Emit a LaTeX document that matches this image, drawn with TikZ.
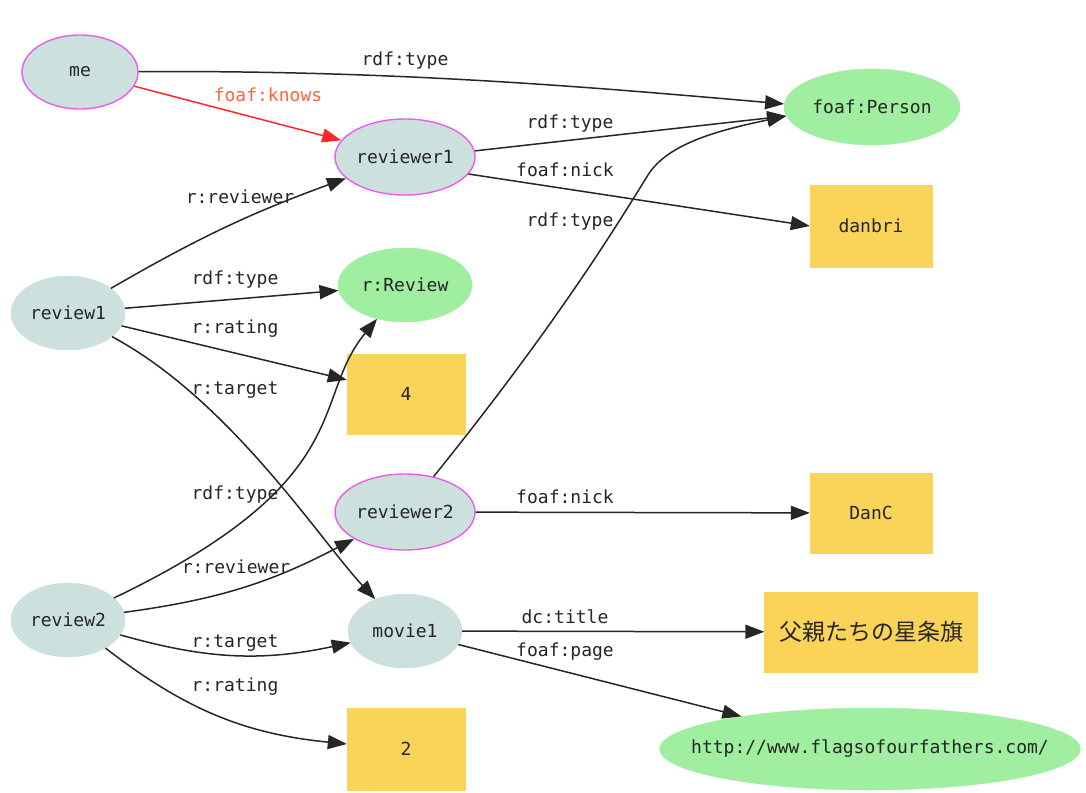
\documentclass[tikz,border=0pt]{standalone}
\usepackage{fontspec}
\setmonofont{DejaVu Sans Mono}
\newfontfamily\jpfont{Noto Sans CJK JP}
\usetikzlibrary{shapes.geometric,arrows.meta}
\definecolor{resfill}{RGB}{204,224,222}
\definecolor{personline}{RGB}{238,90,238}
\definecolor{classfill}{RGB}{160,238,160}
\definecolor{litfill}{RGB}{250,212,88}
\definecolor{knowsred}{RGB}{255,40,40}
\definecolor{knowslabel}{RGB}{255,100,60}
\begin{document}
\begin{tikzpicture}[x=1pt,y=1pt,
    every node/.style={font=\ttfamily\fontsize{18}{20}\selectfont, text=black!85, inner sep=0pt},
    res/.style={ellipse, fill=resfill, draw=resfill, minimum width=114pt, minimum height=74pt},
    agent/.style={ellipse, fill=resfill, draw=personline, line width=1.4pt, minimum width=140pt, minimum height=76pt},
    class/.style={ellipse, fill=classfill, draw=classfill, minimum width=134pt, minimum height=74pt},
    lit/.style={rectangle, fill=litfill, draw=litfill, minimum width=118pt, minimum height=80pt},
    edge/.style={draw=black!85, line width=1.5pt, -{Triangle[length=19pt,width=14pt]}}]
    \fill [white] (0,0) rectangle (1086,-792);
    \useasboundingbox (0,0) rectangle (1086,-792);
    % resources
    \node [agent, minimum width=116pt, minimum height=74pt] (me) at (80,-72) {me};
    \node [agent] (reviewer1) at (405,-157) {reviewer1};
    \node [agent] (reviewer2) at (405,-512) {reviewer2};
    \node [res] (review1) at (68,-313) {review1};
    \node [res] (review2) at (68,-620) {review2};
    \node [res] (movie1) at (405,-631) {movie1};
    % classes and pages
    \node [class, minimum width=176pt, minimum height=76pt] (person) at (872,-107) {foaf:Person};
    \node [class] (review) at (405,-285) {r:Review};
    \node [class, inner xsep=-30pt, minimum width=420pt, minimum height=82pt] (page) at (870,-749) {http://www.flagsofourfathers.com/};
    % literals
    \node [lit, minimum width=122pt, minimum height=82pt] (danbri) at (871,-226) {danbri};
    \node [lit, minimum width=122pt] (danc) at (871,-513) {DanC};
    \node [lit] (four) at (406,-394) {4};
    \node [lit, minimum height=82pt] (two) at (406,-749) {2};
    \node [lit, minimum width=213pt] (title) at (871,-632) {\jpfont\fontsize{23}{26}\selectfont 父親たちの星条旗};
    % me
    \draw [edge] (me) .. controls (400,-70) and (600,-88) .. (person.178);
    \draw (405,-61) node {rdf:type};
    \draw [edge, draw=knowsred, -{Triangle[length=19pt,width=14pt,fill=knowsred]}] (me) -- (reviewer1);
    \draw (268,-95) node [text=knowslabel] {foaf:knows};
    % reviewer1
    \draw [edge] (reviewer1.5) -- (person.186);
    \draw (570,-124) node {rdf:type};
    \draw [edge] (reviewer1.-15) -- (danbri.west);
    \draw (565,-170) node {foaf:nick};
    % reviewer2
    \draw [edge] (reviewer2) .. controls (560,-320) and (620,-220) .. (648,-175)
        .. controls (668,-143) and (720,-130) .. (person.186);
    \draw (570,-222) node {rdf:type};
    \draw [edge] (reviewer2) -- (danc);
    \draw (565,-497) node {foaf:nick};
    % review1
    \draw [edge] (review1) to [bend left=5] (reviewer1);
    \draw (240,-197) node {r:reviewer};
    \draw [edge] (review1) -- (review);
    \draw (235,-280) node {rdf:type};
    \draw [edge] (review1) -- (four);
    \draw (235,-329) node {r:rating};
    \draw [edge] (review1) .. controls (230,-400) and (320,-540) .. (movie1);
    \draw (235,-390) node {r:target};
    % review2
    \draw [edge] (review2) .. controls (360,-480) and (310,-400) .. (review);
    \draw (235,-495) node {rdf:type};
    \draw [edge] (review2) to [bend right=10] (reviewer2);
    \draw (236,-567) node {r:reviewer};
    \draw [edge] (review2) to [bend right=14] (movie1);
    \draw (235,-643) node {r:target};
    \draw [edge] (review2) to [bend right=16] (two);
    \draw (235,-687) node {r:rating};
    % movie1
    \draw [edge] (movie1) -- (title);
    \draw (565,-617) node {dc:title};
    \draw [edge] (movie1) -- (page);
    \draw (565,-652) node {foaf:page};
\end{tikzpicture}
\end{document}
